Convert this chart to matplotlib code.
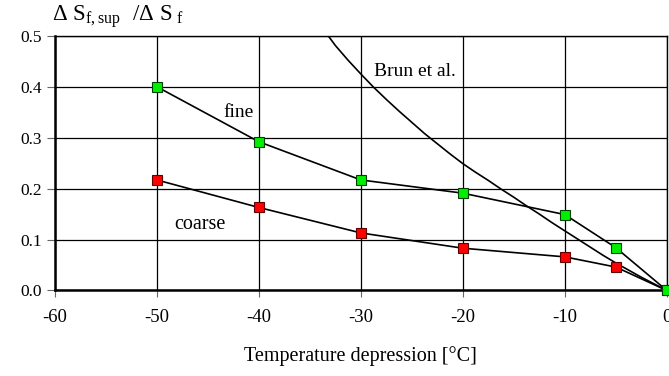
import matplotlib
matplotlib.use('Agg')
import matplotlib.pyplot as plt

plt.rcParams['font.family'] = ['Liberation Serif', 'DejaVu Serif']
plt.rcParams['mathtext.fontset'] = 'custom'
plt.rcParams['mathtext.rm'] = 'Liberation Serif'
plt.rcParams['mathtext.it'] = 'Liberation Serif'

# temperature depression [°C]
temps = [-50, -40, -30, -20, -10, -5, 0]
fine = [0.400, 0.292, 0.217, 0.191, 0.149, 0.084, 0.0]
coarse = [0.217, 0.163, 0.113, 0.083, 0.066, 0.046, 0.0]

# Brun et al. curve
brun_t = [0, -1.25, -2.5, -3.75, -5, -6.25, -7.5, -8.75, -10, -11.25, -12.5, -13.75,
          -15, -16.25, -17.5, -18.75, -20, -21.25, -22.5, -23.75, -25, -26.25,
          -27.5, -28.75, -30, -31.25, -32.5, -33.2]
brun_v = [0, 0.013, 0.026, 0.040, 0.054, 0.069, 0.085, 0.101, 0.117, 0.133, 0.150, 0.166,
          0.183, 0.199, 0.216, 0.232, 0.249, 0.268, 0.288, 0.308, 0.330, 0.352,
          0.375, 0.399, 0.425, 0.452, 0.481, 0.500]

xticks = [-60, -50, -40, -30, -20, -10, 0]
yticks = [0.0, 0.1, 0.2, 0.3, 0.4, 0.5]

fig = plt.figure(figsize=(6.69, 3.76), dpi=100)
ax = fig.add_axes([0.0818, 0.2274, 0.915, 0.6776])

ax.plot(brun_t, brun_v, color='black', lw=1.2)
ax.plot(temps, coarse, color='black', lw=1.2, marker='s', ms=7.5,
        mfc='#ff0000', mec='#600000', mew=0.8, clip_on=False, zorder=3)
ax.plot(temps, fine, color='black', lw=1.2, marker='s', ms=7.5,
        mfc='#00ee00', mec='#004000', mew=0.8, clip_on=False, zorder=4)

ax.text(-42, 0.35, 'fine', fontsize=14, ha='center', va='center')
ax.text(-45.8, 0.13, 'coarse', fontsize=14.5, ha='center', va='center')
ax.text(-24.7, 0.43, 'Brun et al.', fontsize=14, ha='center', va='center')

ax.set_xlim(-60, 0)
ax.set_ylim(0, 0.5)
ax.set_xticks(xticks)
ax.set_xticklabels(['%d' % t for t in xticks])
ax.set_yticks(yticks)
ax.set_yticklabels(['%.1f' % v for v in yticks])
ax.tick_params(axis='x', labelsize=13.5, length=5, color='#666666', pad=8)
ax.tick_params(axis='y', labelsize=12.5, length=6, color='#666666', pad=3)

ax.grid(True, color='black', lw=0.9)
ax.set_axisbelow(True)
for side in ['left', 'bottom']:
    ax.spines[side].set_linewidth(1.8)
for side in ['top', 'right']:
    ax.spines[side].set_linewidth(1.0)

ax.set_xlabel('Temperature depression [°C]', fontsize=14.5, labelpad=15)
fig.text(0.078, 0.955, r'$\mathrm{\Delta\ S_{f,sup}\ \ /\Delta\ S_{\ f}}$',
         fontsize=16.5, ha='left', va='center')

fig.savefig('out.png', dpi=100)
